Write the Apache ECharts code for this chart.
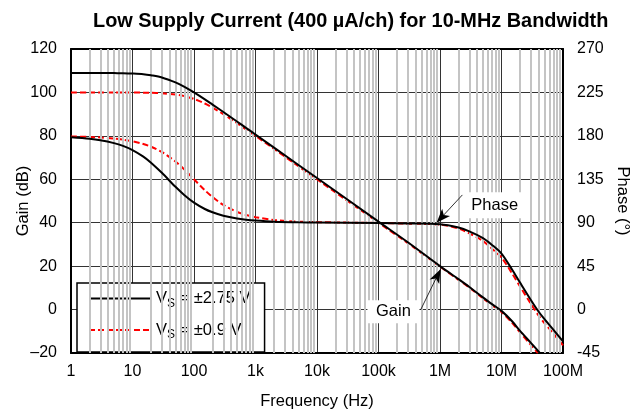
<!DOCTYPE html>
<html>
<head>
<meta charset="utf-8">
<script src="https://cdn.jsdelivr.net/npm/echarts@6/dist/echarts.min.js"></script>
<style>
html,body{margin:0;padding:0;background:#fff;}
#c{width:641px;height:409px;}
</style>
</head>
<body>
<div id="c"></div>
<script>
// ---------- data ----------
const gainFreq275 = [1,2,3,5,7,10,15,20,30,50,70,100,150,200,300,500,700,1e3,2e3,5e3,1e4,1e5,3e5,1e6,2e6,3e6,5e6,7e6,1e7,1.5e7,2e7,3e7,4.2e7];
const gain275     = [109,109,109,108.9,108.85,108.7,108.4,107.9,106.9,104.6,102.6,100.0,96.8,94.4,91.0,86.6,83.7,80.6,74.6,66.6,60.6,40.5,31.0,20.0,14.0,10.4,5.6,2.5,-0.6,-5.5,-9.8,-15.3,-20];
const gainFreq09  = [1,2,3,5,7,10,15,20,30,50,70,100,150,200,300,500,700,1e3,2e3,5e3,1e4,1e5,3e5,1e6,2e6,3e6,5e6,7e6,1e7,1.5e7,2e7,3e7,3.9e7];
const gain09      = [100,100,100,99.99,99.98,99.96,99.9,99.83,99.6,99.0,98.3,97.0,94.9,93.0,90.0,85.9,83.0,80.0,74.0,66.0,60.0,40.0,30.6,19.8,13.7,10.1,5.2,2.0,-1.1,-6.2,-10.5,-16.3,-20];

const phaseFreq   = [1,2,3,5,7,10,15,20,30,50,70,100,150,200,300,500,700,1e3,2e3,5e3,1e4,1e5,3e5,1e6,2e6,3e6,5e6,7e6,1e7,1.5e7,2e7,3e7,4e7,5e7,7e7,1e8];
const phase275    = [178.5,177,175.5,172.5,169.6,165.3,158.5,152.2,141.7,127.2,118.5,110.8,104.2,100.8,97.2,94.3,93.1,92.2,91.1,90.4,90.2,89.7,89.2,88.5,85,81,74,67,58,41,28,10,-2,-10,-21,-33];
const phase09     = [179.4,178.9,178.3,177.1,176,174.3,171.5,168.7,163.3,153.4,145,135,123.7,116.6,108.4,101.3,98.1,95.7,92.9,91.1,90.6,89.7,89,88,84,79,71,63,54,37,24,6,-6,-14,-25,-37];

const xTickLabels = ['1','10','100','1k','10k','100k','1M','10M','100M'];
const minorGridFreqs = [];
for (let k = 0; k < 8; k++) for (let m = 2; m <= 9; m++) minorGridFreqs.push(m * Math.pow(10, k));

const seriesNames = ['vs275', 'vs09'];
const legendText = {
  vs275: '{a|V}{s|S}{a|\u00a0=\u00a0±2.75\u00a0V}',
  vs09: '{a|V}{s|S}{a|\u00a0=\u00a0±0.9\u00a0V}'
};

const pair = (xs, ys) => xs.map((x, i) => [x, ys[i]]);
const FONT = '"Liberation Sans", Arial, sans-serif';
const TICK = 16, NAME = 16.5;

const chart = echarts.init(document.getElementById('c'), null, {renderer: 'canvas'});
const black = {color: '#000', width: 2, type: 'solid'};
const red = {color: '#ff0000', width: 2, type: [6, 3]};

chart.setOption({
  animation: false,
  backgroundColor: '#fff',
  textStyle: {fontFamily: FONT},
  title: {
    text: 'Low Supply Current (400 µA/ch) for 10-MHz Bandwidth',
    left: 88, top: 7,
    textStyle: {fontFamily: FONT, fontSize: 19.9, fontWeight: 'bold', color: '#000'}
  },
  grid: {left: 71, right: 78, top: 49, bottom: 56, containLabel: false, outerBoundsMode: 'none'},
  legend: {
    data: seriesNames,
    orient: 'vertical',
    left: 77, top: 283,
    itemWidth: 62, itemHeight: 14, itemGap: 12,
    padding: [7, 14, 11, 11],
    backgroundColor: '#fff',
    borderColor: '#000', borderWidth: 1.5, borderRadius: 0,
    itemStyle: {opacity: 0},
    formatter: n => legendText[n],
    textStyle: {
      fontFamily: FONT, color: '#000',
      rich: {
        a: {fontFamily: FONT, fontSize: NAME, lineHeight: 22, color: '#000', verticalAlign: 'middle'},
        s: {fontFamily: FONT, fontSize: 12, lineHeight: 12, color: '#000', verticalAlign: 'bottom'}
      }
    }
  },
  xAxis: [{
    type: 'log', logBase: 10, min: 1, max: 1e8,
    name: 'Frequency (Hz)', nameLocation: 'middle', nameGap: 40, nameMoveOverlap: false,
    nameTextStyle: {fontFamily: FONT, fontSize: NAME, color: '#000'},
    axisLine: {show: true, onZero: false, lineStyle: {color: '#000', width: 2}},
    axisTick: {show: false},
    axisLabel: {fontFamily: FONT, fontSize: TICK, color: '#000', margin: 11,
      formatter: v => xTickLabels[Math.round(Math.log10(v))]},
    splitLine: {show: true, lineStyle: {color: '#333', width: 1}},
    z: 3
  }, {
    type: 'log', logBase: 10, min: 1, max: 1e8, position: 'top',
    axisLine: {show: true, onZero: false, lineStyle: {color: '#000', width: 2}},
    axisTick: {show: false}, axisLabel: {show: false}, splitLine: {show: false},
    z: 3
  }],
  yAxis: [{
    type: 'value', min: -20, max: 120, interval: 20,
    name: 'Gain (dB)', nameLocation: 'middle', nameGap: 39, nameRotate: 90, nameMoveOverlap: false,
    nameTextStyle: {fontFamily: FONT, fontSize: NAME, color: '#000'},
    axisLine: {show: true, onZero: false, lineStyle: {color: '#000', width: 2}},
    axisTick: {show: false},
    axisLabel: {fontFamily: FONT, fontSize: TICK, color: '#000', margin: 14,
      formatter: v => (v < 0 ? '\u2013' + Math.abs(v) : String(v))},
    splitLine: {show: true, lineStyle: {color: '#333', width: 1}},
    z: 3
  }, {
    type: 'value', min: -45, max: 270, interval: 45, position: 'right',
    name: 'Phase (°)', nameLocation: 'middle', nameGap: 51, nameRotate: -90, nameMoveOverlap: false,
    nameTextStyle: {fontFamily: FONT, fontSize: NAME, color: '#000'},
    axisLine: {show: true, onZero: false, lineStyle: {color: '#000', width: 2}},
    axisTick: {show: false},
    axisLabel: {fontFamily: FONT, fontSize: TICK, color: '#000', margin: 14},
    splitLine: {show: false},
    z: 3
  }],
  series: [
    {
      name: 'minorGrid', type: 'line', data: [], z: 1, silent: true,
      markLine: {
        silent: true, symbol: ['none', 'none'], animation: false,
        label: {show: false},
        lineStyle: {color: '#c4c4c4', width: 2, type: 'solid'},
        emphasis: {disabled: true},
        data: minorGridFreqs.map(f => ({xAxis: f}))
      }
    },
    {
      name: 'vs275', type: 'line', yAxisIndex: 0, data: pair(gainFreq275, gain275),
      showSymbol: false, symbol: 'none', smooth: 0.3, lineStyle: black, itemStyle: {color: '#000'}, z: 5,
      markPoint: {
        silent: true, animation: false,
        data: [
          {coord: [7.75e6, 48.0], symbol: 'rect', symbolSize: [62, 26], itemStyle: {color: '#fff'},
           label: {show: true, formatter: 'Phase', color: '#000', fontSize: NAME, fontFamily: FONT}},
          {coord: [1.75e5, -1.0], symbol: 'rect', symbolSize: [52, 23], itemStyle: {color: '#fff'},
           label: {show: true, formatter: 'Gain', color: '#000', fontSize: NAME, fontFamily: FONT}}
        ]
      },
      markLine: {
        silent: true, animation: false, label: {show: false},
        symbol: ['none', 'arrow'], symbolSize: [8, 14],
        lineStyle: {color: '#000', width: 0.8, type: 'solid'},
        data: [
          [{coord: [2.31e6, 52.8]}, {coord: [8.8e5, 40.0]}],
          [{coord: [4.83e5, -0.2]}, {coord: [1.02e6, 18.6]}]
        ]
      }
    },
    {
      name: 'vs09', type: 'line', yAxisIndex: 0, data: pair(gainFreq09, gain09),
      showSymbol: false, symbol: 'none', smooth: 0.3, lineStyle: red, itemStyle: {color: '#ff0000'}, z: 4
    },
    {
      name: 'vs275', type: 'line', yAxisIndex: 1, data: pair(phaseFreq, phase275),
      showSymbol: false, symbol: 'none', smooth: 0.3, lineStyle: black, itemStyle: {color: '#000'}, z: 5
    },
    {
      name: 'vs09', type: 'line', yAxisIndex: 1, data: pair(phaseFreq, phase09),
      showSymbol: false, symbol: 'none', smooth: 0.3, lineStyle: red, itemStyle: {color: '#ff0000'}, z: 4
    }
  ]
});
</script>
</body>
</html>
